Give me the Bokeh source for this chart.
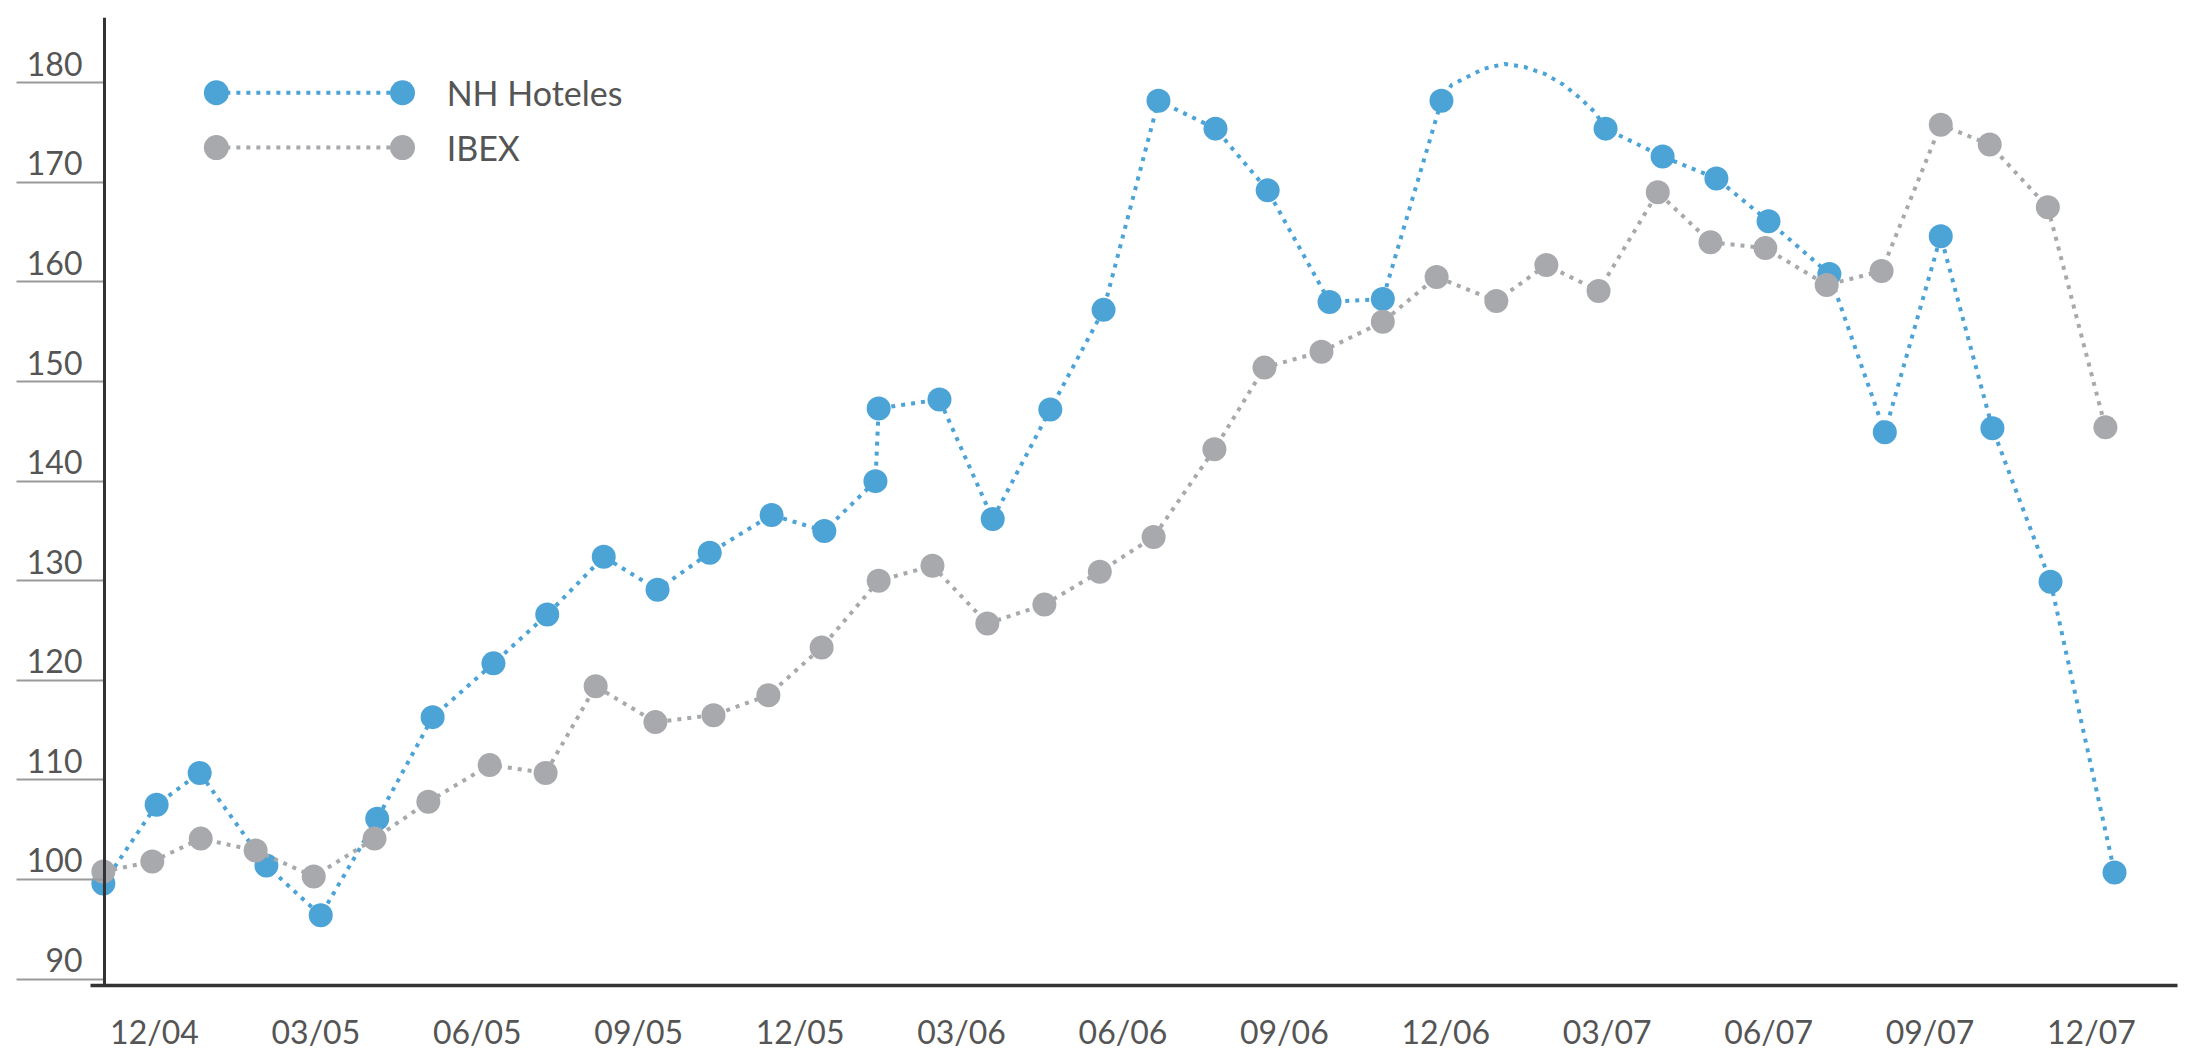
from bokeh.plotting import figure
from bokeh.models import Range1d, FixedTicker, Span
from bokeh.core.properties import value
from bokeh.embed import file_html
from bokeh.resources import INLINE

# ---- data (x in months, 12/04 = 1) ----
tick_pos = [1, 4, 7, 10, 13, 16, 19, 22, 25, 28, 31, 34, 37]
tick_labels = ["12/04", "03/05", "06/05", "09/05", "12/05", "03/06", "06/06",
               "09/06", "12/06", "03/07", "06/07", "09/07", "12/07"]
y_ticks = [90, 100, 110, 120, 130, 140, 150, 160, 170, 180]

nh_x = [0.05, 1.04, 1.84, 3.08, 4.09, 5.14, 6.17, 7.30, 8.30, 9.35, 10.35, 11.32,
        12.47, 13.45, 14.40, 14.46, 15.59, 16.58, 17.65, 18.64, 19.66, 20.72, 21.69,
        22.84, 23.83, 24.92, 27.97, 29.03, 30.03, 31.00, 32.13, 33.16, 34.20, 35.16,
        36.24, 37.43]
nh_y = [99.6, 107.5, 110.7, 101.4, 96.4, 106.1, 116.3, 121.7, 126.6, 132.4, 129.1, 132.8,
        136.6, 135.0, 140.0, 147.3, 148.2, 136.2, 147.2, 157.2, 178.2, 175.4, 169.2,
        158.0, 158.3, 178.2, 175.4, 172.6, 170.4, 166.1, 160.8, 144.9, 164.6, 145.3,
        129.9, 100.7]
# NH line path read off the curved stretch between 12/06 and 03/07 (no markers there)
nh_gap_x = [25.11, 25.33, 25.70, 26.09, 26.46, 26.84, 27.19, 27.49, 27.78]
nh_gap_y = [179.8, 180.4, 181.4, 181.9, 181.6, 180.9, 179.8, 178.5, 177.0]

ibex_x = [0.05, 0.96, 1.86, 2.88, 3.96, 5.09, 6.09, 7.23, 8.27, 9.20, 10.31, 11.39,
          12.41, 13.40, 14.46, 15.46, 16.48, 17.54, 18.57, 19.57, 20.70, 21.63, 22.69,
          23.83, 24.83, 25.94, 26.87, 27.84, 28.94, 29.92, 30.94, 32.08, 33.10, 34.20,
          35.11, 36.19, 37.26]
ibex_y = [100.8, 101.8, 104.1, 102.9, 100.3, 104.1, 107.8, 111.5, 110.7, 119.4, 115.8, 116.5,
          118.5, 123.3, 130.0, 131.5, 125.7, 127.6, 130.9, 134.4, 143.2, 151.4, 153.0,
          156.0, 160.5, 158.1, 161.7, 159.1, 169.0, 164.0, 163.4, 159.7, 161.1, 175.8,
          173.8, 167.5, 145.4]

series_names = ["NH Hoteles", "IBEX"]

# ---- styles ----
BLUE = "#4ba3d6"
GREY = "#a7a9ac"
AXIS = "#333333"
TXT = "#555555"
FONT = "Lato"

p = figure(width=2187, height=1053, output_backend="svg", toolbar_location=None,
           x_range=Range1d(-0.189, 38.60), y_range=Range1d(89.35, 186.56),
           min_border_left=90, min_border_right=10, min_border_top=17,
           min_border_bottom=62)
p.outline_line_color = None
p.grid.visible = False
p.background_fill_color = "white"
p.border_fill_color = "white"

# x axis
xa = p.xaxis[0]
xa.ticker = FixedTicker(ticks=tick_pos)
xa.major_label_overrides = {t: l for t, l in zip(tick_pos, tick_labels)}
xa.axis_line_color = AXIS
xa.axis_line_width = 3.5
xa.major_tick_line_color = None
xa.minor_tick_line_color = None
xa.major_label_standoff = 20
xa.major_label_text_font = FONT
xa.major_label_text_font_size = "32px"
xa.major_label_text_color = TXT

# y axis (tick lines out to the left, labels sitting above them)
ya = p.yaxis[0]
ya.ticker = FixedTicker(ticks=y_ticks)
ya.major_label_overrides = {t: f"{t}\n " for t in y_ticks}
ya.axis_line_color = None
ya.major_tick_out = 74
ya.major_tick_in = 14
ya.major_tick_line_color = "#9a9a9a"
ya.major_tick_line_width = 2
ya.minor_tick_line_color = None
ya.major_label_standoff = -66
ya.major_label_text_font = FONT
ya.major_label_text_font_size = "32px"
ya.major_label_text_line_height = 1.0
ya.major_label_text_color = TXT

p.add_layout(Span(location=0.071, dimension="height", line_color=AXIS, line_width=3))

# NH line path
path_x = nh_x[:26] + nh_gap_x + nh_x[26:]
path_y = nh_y[:26] + nh_gap_y + nh_y[26:]
p.line(path_x, path_y, line_color=BLUE, line_width=4, line_dash="4 6")
p.scatter(nh_x, nh_y, size=24, fill_color=BLUE, line_color=None)

p.line(ibex_x, ibex_y, line_color=GREY, line_width=4, line_dash="4 6")
p.scatter(ibex_x, ibex_y, size=24, fill_color=GREY, line_color=None)

# legend (drawn manually: dot, dotted line, dot, label)
LEG_X0, LEG_X1, LEG_TX = 2.15, 5.61, 6.43
LEG_ROWS = [179.0, 173.5]
for name, col, ly in zip(series_names, [BLUE, GREY], LEG_ROWS):
    p.line([LEG_X0, LEG_X1], [ly, ly], line_color=col, line_width=4, line_dash="4 6")
    p.scatter([LEG_X0, LEG_X1], [ly, ly], size=25, fill_color=col, line_color=None)
    p.text(x=[LEG_TX], y=[ly], text=[name], text_font=value(FONT),
           text_font_size="34px", text_baseline="middle", text_color=TXT)

open("out.html", "w").write(file_html(p, INLINE))
